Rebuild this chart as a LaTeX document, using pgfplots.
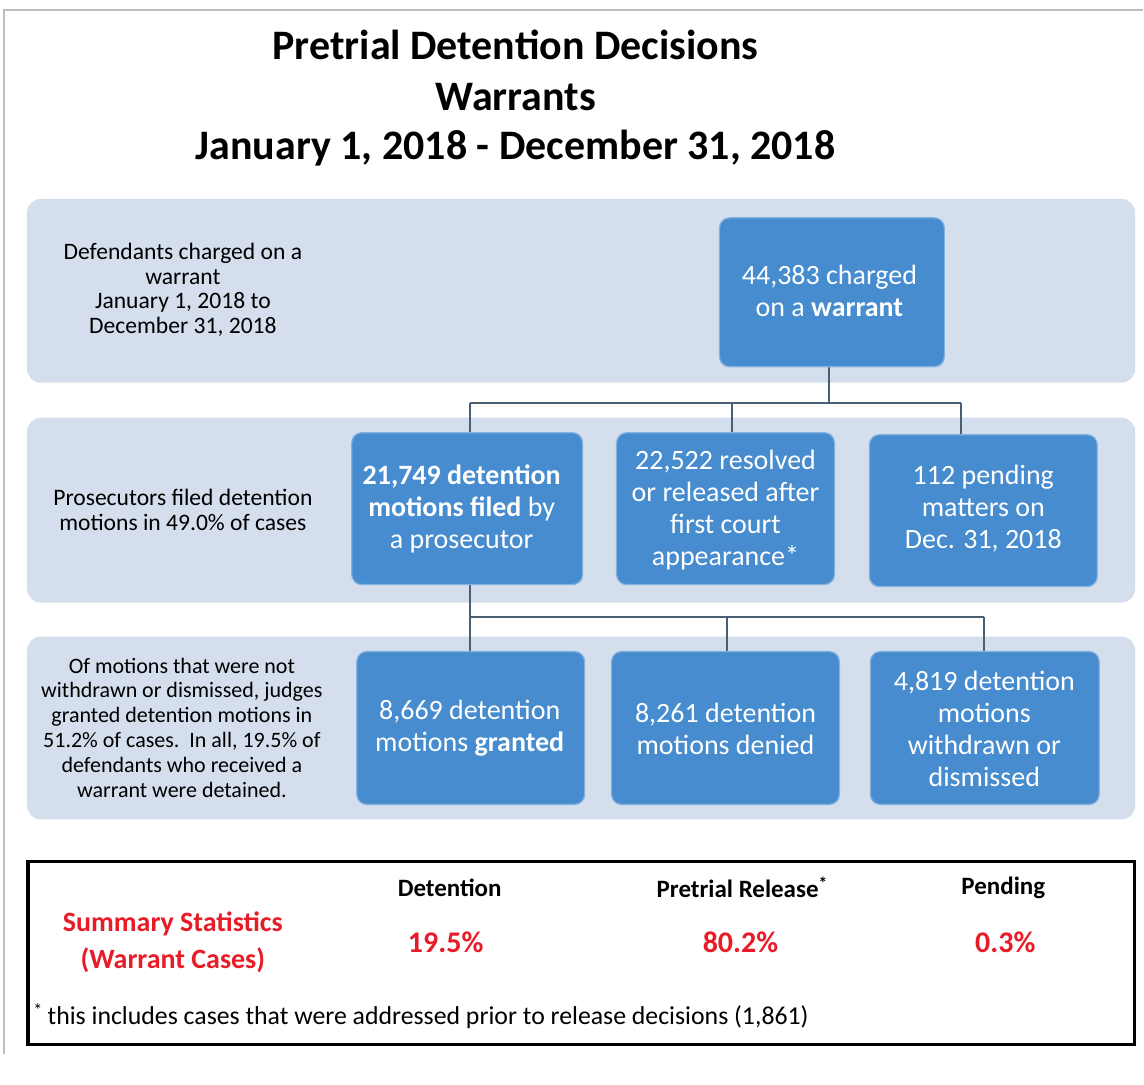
\documentclass[border=0pt]{standalone}
\usepackage{pgfplots}
\pgfplotsset{compat=1.18}
\usepackage{fontspec}
\setmainfont{Carlito}
\definecolor{band}{RGB}{212,222,237}
\definecolor{boxblue}{RGB}{70,140,206}
\definecolor{boxedge}{RGB}{130,178,224}
\definecolor{conn}{RGB}{75,95,115}
\definecolor{sred}{RGB}{232,28,40}
\definecolor{frame}{RGB}{190,190,190}

\begin{document}
\begin{tikzpicture}
\begin{axis}[
    width=572pt, height=542.5pt, scale only axis,
    xmin=0, xmax=1144, ymin=0, ymax=1085, y dir=reverse,
    hide axis, clip=false,
]
% page and frame
\fill[white] (axis cs:0,0) rectangle (axis cs:1144,1085);
\draw[frame, line width=0.8pt] (axis cs:4,1055) -- (axis cs:4,10) -- (axis cs:1144,10);

% title
\node[font=\fontsize{21}{24}\selectfont\bfseries] at (axis cs:516,45) {Pretrial Detention Decisions};
\node[font=\fontsize{21}{24}\selectfont\bfseries] at (axis cs:516,97) {Warrants};
\node[font=\fontsize{21}{24}\selectfont\bfseries] at (axis cs:516,148) {January 1, 2018 - December 31, 2018};

% bands
\fill[band, rounded corners=7pt] (axis cs:27,199) rectangle (axis cs:1136,383);
\fill[band, rounded corners=7pt] (axis cs:27,418) rectangle (axis cs:1136,603);
\fill[band, rounded corners=7pt] (axis cs:27,637) rectangle (axis cs:1136,820);

% connectors
\draw[conn, line width=1pt] (axis cs:830,367) -- (axis cs:830,403);
\draw[conn, line width=1pt] (axis cs:470,403) -- (axis cs:962,403);
\draw[conn, line width=1pt] (axis cs:470,403) -- (axis cs:470,433);
\draw[conn, line width=1pt] (axis cs:733,403) -- (axis cs:733,433);
\draw[conn, line width=1pt] (axis cs:962,403) -- (axis cs:962,435);
\draw[conn, line width=1pt] (axis cs:470,585) -- (axis cs:470,652);
\draw[conn, line width=1pt] (axis cs:470,617) -- (axis cs:985,617);
\draw[conn, line width=1pt] (axis cs:727,617) -- (axis cs:727,652);
\draw[conn, line width=1pt] (axis cs:985,617) -- (axis cs:985,652);

% boxes
\tikzset{bx/.style={fill=boxblue, draw=boxedge, line width=0.6pt, rounded corners=5pt}}
\draw[bx] (axis cs:720,218) rectangle (axis cs:945,367);
\draw[bx] (axis cs:352,433) rectangle (axis cs:583,585);
\draw[bx] (axis cs:617,433) rectangle (axis cs:835,585);
\draw[bx] (axis cs:870,435) rectangle (axis cs:1098,587);
\draw[bx] (axis cs:357,652) rectangle (axis cs:585,805);
\draw[bx] (axis cs:612,652) rectangle (axis cs:840,805);
\draw[bx] (axis cs:871,652) rectangle (axis cs:1100,805);

% box texts
\tikzset{bt/.style={text=white, align=center, font=\fontsize{14}{16}\selectfont}}
\node[bt] at (axis cs:830,291) {44,383 charged\\on a \textbf{warrant}};
\node[bt] at (axis cs:462,509) {\textbf{21,749 detention}\\\textbf{motions filed} by\\a prosecutor};
\node[bt] at (axis cs:726,510) {22,522 resolved\\or released after\\first court\\appearance*};
\node[bt] at (axis cs:984,509) {112 pending\\matters on\\Dec. 31, 2018};
\node[bt] at (axis cs:470,729) {8,669 detention\\motions \textbf{granted}};
\node[bt] at (axis cs:726,729) {8,261 detention\\motions denied};
\node[bt] at (axis cs:985,729) {4,819 detention\\motions\\withdrawn or\\dismissed};

% left texts
\tikzset{lt/.style={align=center, font=\fontsize{11.8}{12.4}\selectfont}}
\node[lt] at (axis cs:183,290) {Defendants charged on a\\warrant\\January 1, 2018 to\\December 31, 2018};
\node[lt] at (axis cs:183,510) {Prosecutors filed detention\\motions in 49.0\% of cases};
\node[lt, font=\fontsize{11}{12.4}\selectfont] at (axis cs:182,728) {Of motions that were not\\withdrawn or dismissed, judges\\granted detention motions in\\51.2\% of cases.\ \ In all, 19.5\% of\\defendants who received a\\warrant were detained.};

% summary box
\draw[black, line width=1.6pt] (axis cs:28,862) rectangle (axis cs:1135,1045);
\node[font=\fontsize{12.5}{14}\selectfont\bfseries] at (axis cs:450,888) {Detention};
\node[font=\fontsize{12.5}{14}\selectfont\bfseries] at (axis cs:743,888) {Pretrial Release\textsuperscript{*}};
\node[font=\fontsize{12.5}{14}\selectfont\bfseries] at (axis cs:1004,888) {Pending};
\node[text=sred, align=center, font=\fontsize{14}{18.5}\selectfont\bfseries] at (axis cs:173,943) {Summary Statistics\\(Warrant Cases)};
\node[text=sred, font=\fontsize{15}{18}\selectfont\bfseries] at (axis cs:446,943) {19.5\%};
\node[text=sred, font=\fontsize{15}{18}\selectfont\bfseries] at (axis cs:741,943) {80.2\%};
\node[text=sred, font=\fontsize{15}{18}\selectfont\bfseries] at (axis cs:1006,943) {0.3\%};
\node[anchor=west, font=\fontsize{12.9}{14}\selectfont, inner sep=0pt] at (axis cs:33,1017) {\textsuperscript{*}\,this includes cases that were addressed prior to release decisions (1,861)};
\end{axis}
\end{tikzpicture}
\end{document}
